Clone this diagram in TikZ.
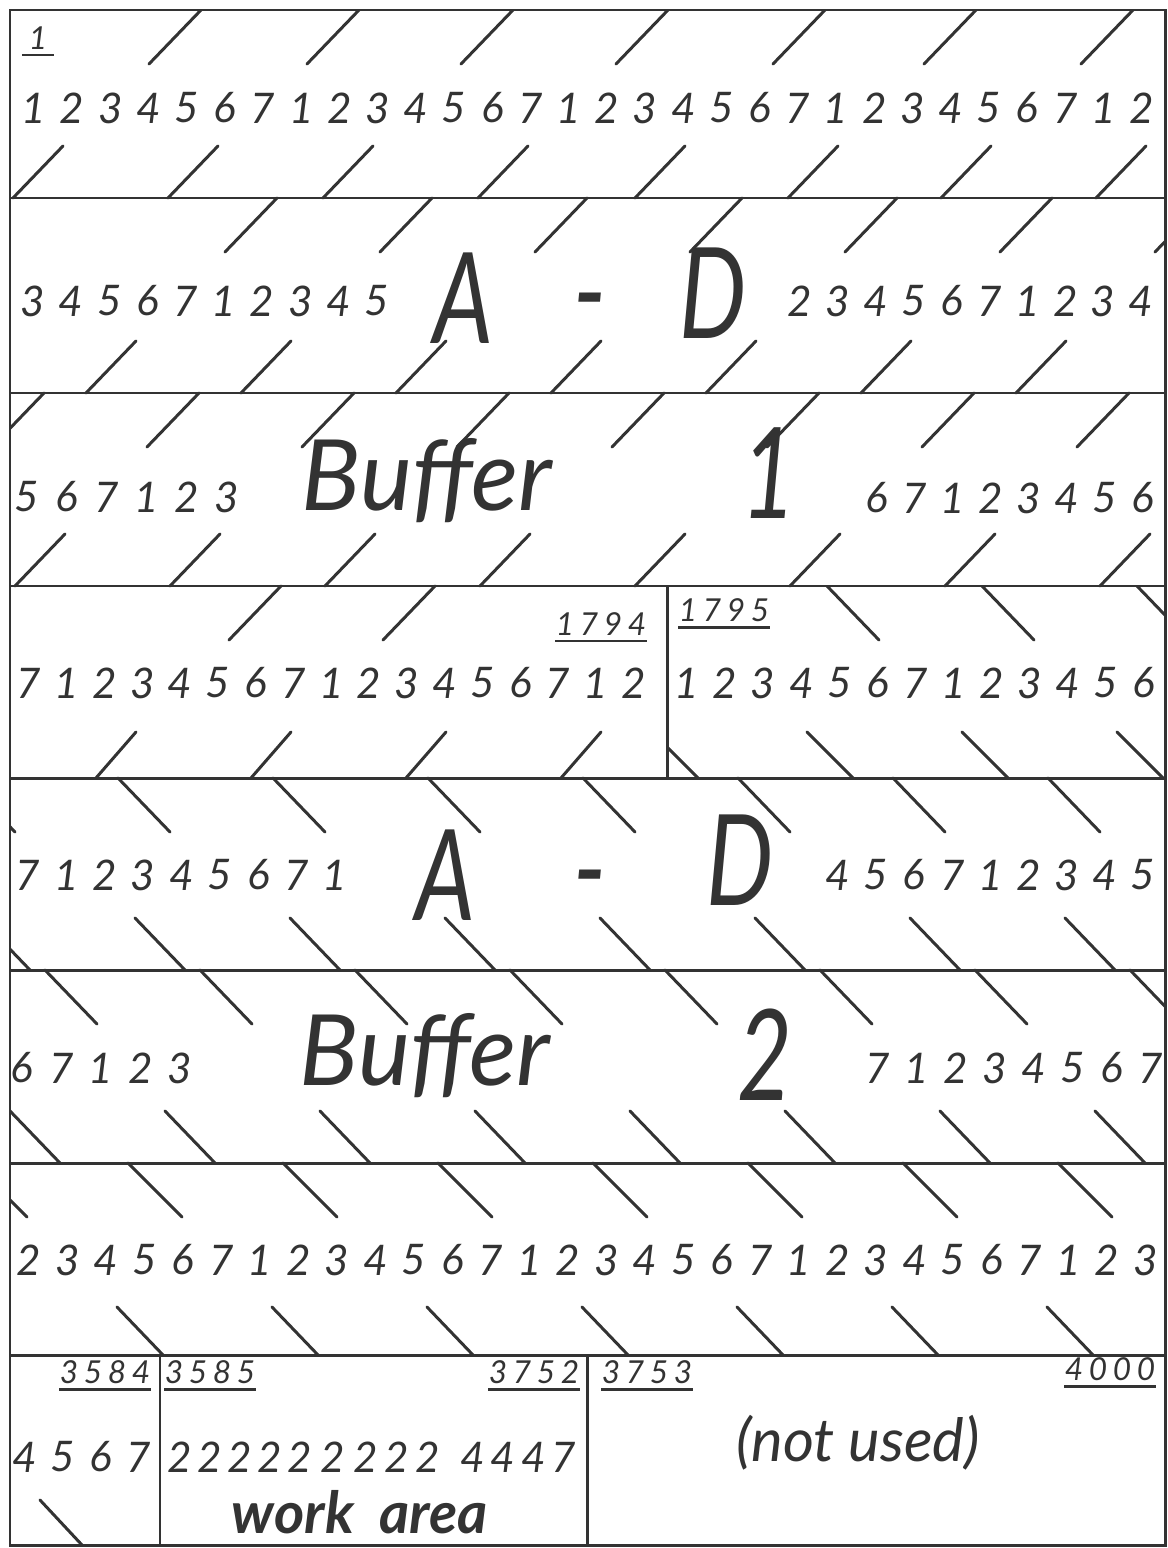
\documentclass[tikz,border=0pt]{standalone}
\usepackage{fontspec}
\setmainfont{Lato}
\definecolor{inkcolor}{gray}{0.2}
\tikzset{
  frame/.style={draw=inkcolor, line width=1.7pt},
  hatch/.style={draw=inkcolor, line width=1.7pt, line cap=round},
  dig/.style={font=\fontsize{24}{28}\selectfont\itshape, text=inkcolor, inner sep=0pt},
  addr/.style={font=\fontsize{18}{20}\selectfont\itshape\addfontfeature{LetterSpace=18}, text=inkcolor, inner sep=0pt},
  uline/.style={draw=inkcolor, line width=1.6pt},
  big/.style={font=\fontsize{72}{80}\selectfont\itshape\addfontfeature{FakeStretch=0.75}, text=inkcolor, inner sep=0pt, anchor=base},
  buf/.style={font=\fontsize{56}{60}\selectfont\itshape, text=inkcolor, inner sep=0pt, anchor=base},
  note/.style={font=\fontsize{34}{36}\selectfont\itshape, text=inkcolor, inner sep=0pt},
}
\begin{document}
\begin{tikzpicture}[x=0.02cm, y=-0.02cm]
\useasboundingbox (0,0) rectangle (1167,1548);
% bands of the store
\draw[frame] (10,10) rectangle (1165,1545);
\foreach \y in {198,393,586,778,970,1163,1355}
  \draw[frame] (10,\y) -- (1165,\y);
\draw[frame] (667,586) -- (667,778);
\draw[frame] (160,1355) -- (160,1545);
\draw[frame] (587,1355) -- (587,1545);
% hatching
\begin{scope}
\clip (10,10) rectangle (1165,1545);
\foreach \x in {201,359,513,668,825,976,1133} \draw[hatch] (\x,10) -- ++(-52,54);
\foreach \x in {13,168,323,478,635,788,941,1096} \draw[hatch] (\x,198) -- ++(50,-52);
\foreach \x in {277,432,587,742,897,1052,1207} \draw[hatch] (\x,198) -- ++(-52,54);
\foreach \x in {86,241,396,551,706,861,1016} \draw[hatch] (\x,393) -- ++(50,-52);
\foreach \x in {44,199,354,509,664,819,974,1129} \draw[hatch] (\x,393) -- ++(-52,54);
\foreach \x in {15,170,325,480,635,790,945,1100} \draw[hatch] (\x,586) -- ++(50,-52);
\foreach \x in {281,435} \draw[hatch] (\x,586) -- ++(-52,54);
\foreach \x in {96,251,406,561} \draw[hatch] (\x,778) -- ++(40,-46);
\foreach \x in {-37,118,273,428,583,738,893,1048} \draw[hatch] (\x,778) -- ++(52,54);
\foreach \x in {30,185,340,495,650,805,960,1115} \draw[hatch] (\x,970) -- ++(-50,-52);
\foreach \x in {45,200,355,510,665,820,975,1130} \draw[hatch] (\x,970) -- ++(52,54);
\foreach \x in {60,215,370,525,680,835,990,1145} \draw[hatch] (\x,1163) -- ++(-50,-52);
\foreach \x in {-27,128,283,438,593,748,903,1058} \draw[hatch] (\x,1163) -- ++(54,54);
\foreach \x in {163,318,473,628,783,938,1093} \draw[hatch] (\x,1355) -- ++(-46,-48);
\draw[hatch] (82,1545) -- ++(-42,-45);
\end{scope}
\begin{scope}
\clip (667,586) rectangle (1165,778);
\foreach \x in {827,982,1137} \draw[hatch] (\x,586) -- ++(52,54);
\foreach \x in {698,853,1008,1163} \draw[hatch] (\x,778) -- ++(-46,-46);
\end{scope}
% cell numbers
\foreach \d [count=\i from 0] in {1,2,3,4,5,6,7,1,2,3,4,5,6,7,1,2,3,4,5,6,7,1,2,3,4,5,6,7,1,2}
  \node[dig] (ra\i) at ({34+38.2*\i},108) {\d};
\foreach \d [count=\i from 0] in {3,4,5,6,7,1,2,3,4,5}
  \node[dig] (rbl\i) at ({33+38.2*\i},301) {\d};
\foreach \d [count=\i from 0] in {2,3,4,5,6,7,1,2,3,4}
  \node[dig] (rbr\i) at ({800+37.9*\i},301) {\d};
\foreach \d [count=\i from 0] in {5,6,7,1,2,3}
  \node[dig] (rcl\i) at ({27+40*\i},497) {\d};
\foreach \d [count=\i from 0] in {6,7,1,2,3,4,5,6}
  \node[dig] (rcr\i) at ({877+38*\i},498) {\d};
\foreach \d [count=\i from 0] in {7,1,2,3,4,5,6,7,1,2,3,4,5,6,7,1,2}
  \node[dig] (rdl\i) at ({29+37.8*\i},683) {\d};
\foreach \d [count=\i from 0] in {1,2,3,4,5,6,7,1,2,3,4,5,6}
  \node[dig] (rdr\i) at ({687+38.1*\i},683) {\d};
\foreach \d [count=\i from 0] in {7,1,2,3,4,5,6,7,1}
  \node[dig] (rel\i) at ({28+38.4*\i},875) {\d};
\foreach \d [count=\i from 0] in {4,5,6,7,1,2,3,4,5}
  \node[dig] (rer\i) at ({838+38.1*\i},875) {\d};
\foreach \d [count=\i from 0] in {6,7,1,2,3}
  \node[dig] (rfl\i) at ({22+39.5*\i},1068) {\d};
\foreach \d [count=\i from 0] in {7,1,2,3,4,5,6,7}
  \node[dig] (rfr\i) at ({878+39*\i},1068) {\d};
\foreach \d [count=\i from 0] in {2,3,4,5,6,7,1,2,3,4,5,6,7,1,2,3,4,5,6,7,1,2,3,4,5,6,7,1,2,3}
  \node[dig] (rg\i) at ({29+38.5*\i},1260) {\d};
\foreach \d [count=\i from 0] in {4,5,6,7}
  \node[dig] (rh\i) at ({25+38*\i},1457) {\d};
\foreach \x [count=\i from 0] in {180,210,240,270,300,333,366,397,428}
  \node[dig] (wt\i) at (\x,1457) {2};
\foreach \d/\x [count=\i from 0] in {4/473,4/503,4/534,7/564}
  \node[dig] (wf\i) at (\x,1457) {\d};
% buffer titles
\node[big] (adA1) at (463,343) {A};
\node[big] (adM1) at (590,335) {-};
\node[big] (adD1) at (713,338) {D};
\node[buf] (bufT1) at (427,510) {Buffer};
\node[big] (bufN1) at (769,518) {1};
\node[big] (adA2) at (445,920) {A};
\node[big] (adM2) at (590,912) {-};
\node[big] (adD2) at (740,905) {D};
\node[buf] (bufT2) at (425,1085) {Buffer};
\node[big] (bufN2) at (765,1100) {2};
\node[note, font=\fontsize{33}{36}\selectfont\bfseries\itshape] (work) at (360,1512) {work\ \ area};
\node[note] (unused) at (858,1443) {(not used)};
% addresses
\node[addr, minimum width=18pt] (a1) at (38,38) {1};
\node[addr] (a1794) at (601,624) {1794};
\node[addr] (a1795) at (724,610) {1795};
\node[addr] (a3584) at (105,1372) {3584};
\node[addr] (a3585) at (210,1372) {3585};
\node[addr] (a3752) at (534,1372) {3752};
\node[addr] (a3753) at (647,1372) {3753};
\node[addr] (a4000) at (1110,1369) {4000};
\foreach \n in {a1,a1794,a1795,a3584,a3585,a3752,a3753,a4000}
  \draw[uline] ([yshift=-3pt]\n.south west) -- ([yshift=-3pt]\n.south east);
\end{tikzpicture}
\end{document}
